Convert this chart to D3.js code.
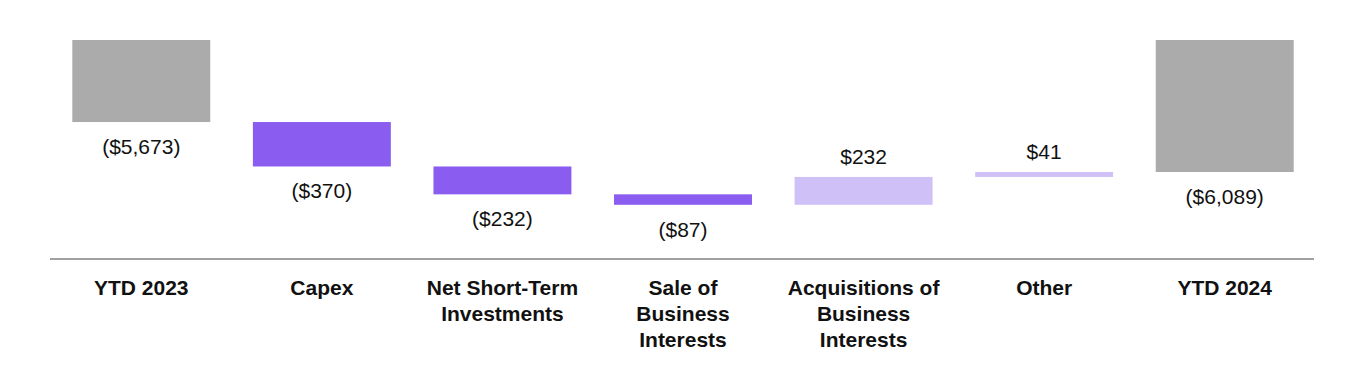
<!DOCTYPE html>
<html>
<head>
<meta charset="utf-8">
<script src="https://cdn.jsdelivr.net/npm/d3@7"></script>
<style>
    body { margin: 0; background: #fff; }
    svg text { font-family: Arial, "Liberation Sans", sans-serif; fill: #111; }
</style>
</head>
<body>
<svg id="chart"></svg>
<script>
const width = 1364, height = 370;

// data (US$ millions)
const categories = ["YTD 2023", "Capex", "Net Short-Term Investments", "Sale of Business Interests",
    "Acquisitions of Business Interests", "Other", "YTD 2024"];
const labelLines = [
    ["YTD 2023"],
    ["Capex"],
    ["Net Short-Term", "Investments"],
    ["Sale of", "Business", "Interests"],
    ["Acquisitions of", "Business", "Interests"],
    ["Other"],
    ["YTD 2024"]
];
const values = [-5673, -370, -232, -87, 232, 41, -6089];
const isTotal = [true, false, false, false, false, false, true];
const valueLabels = ["($5,673)", "($370)", "($232)", "($87)", "$232", "$41", "($6,089)"];

// the value axis is cut, totals start from this level
const axisBreak = -4990;

const svg = d3.select("#chart")
    .attr("width", width)
    .attr("height", height);

const x = d3.scaleBand()
    .domain(categories)
    .range([51, 1315])
    .paddingInner(0.236)
    .paddingOuter(0.118);

const y = d3.scaleLinear()
    .domain([axisBreak, -6089])
    .range([40, 172]);

// build waterfall steps
let running = 0;
const steps = categories.map((c, i) => {
    let lo, hi;
    if (isTotal[i]) {
        running = values[i];
        lo = values[i]; hi = axisBreak;
    } else {
        const start = running;
        running += values[i];
        lo = Math.min(start, running); hi = Math.max(start, running);
    }
    return { cat: c, value: values[i], lo, hi, total: isTotal[i], label: valueLabels[i] };
});

function barColor(d) {
    if (d.total) return "#ababab";
    return d.value < 0 ? "#8b5cf0" : "#cfc0f8";
}

svg.selectAll("rect.bar")
    .data(steps)
    .join("rect")
    .attr("class", "bar")
    .attr("x", d => x(d.cat))
    .attr("width", x.bandwidth())
    .attr("y", d => y(d.hi))
    .attr("height", d => Math.max(1, y(d.lo) - y(d.hi)))
    .attr("fill", barColor);

// value labels: below for negatives, above for positives
svg.selectAll("text.val")
    .data(steps)
    .join("text")
    .attr("class", "val")
    .attr("x", d => x(d.cat) + x.bandwidth() / 2)
    .attr("y", d => d.value < 0 ? y(d.lo) + 32 : y(d.hi) - 13)
    .attr("text-anchor", "middle")
    .style("font-size", "21px")
    .text(d => d.label);

// baseline
svg.append("line")
    .attr("x1", 50).attr("x2", 1314)
    .attr("y1", 259).attr("y2", 259)
    .attr("stroke", "#a0a0a0")
    .attr("stroke-width", 2);

// category labels
const cat = svg.selectAll("text.cat")
    .data(categories)
    .join("text")
    .attr("class", "cat")
    .attr("text-anchor", "middle")
    .style("font-size", "21px")
    .style("font-weight", "bold");

cat.selectAll("tspan")
    .data((d, i) => labelLines[i].map(line => ({ line, c: d })))
    .join("tspan")
    .attr("x", d => x(d.c) + x.bandwidth() / 2)
    .attr("y", (d, j) => 295 + j * 26)
    .text(d => d.line);
</script>
</body>
</html>
